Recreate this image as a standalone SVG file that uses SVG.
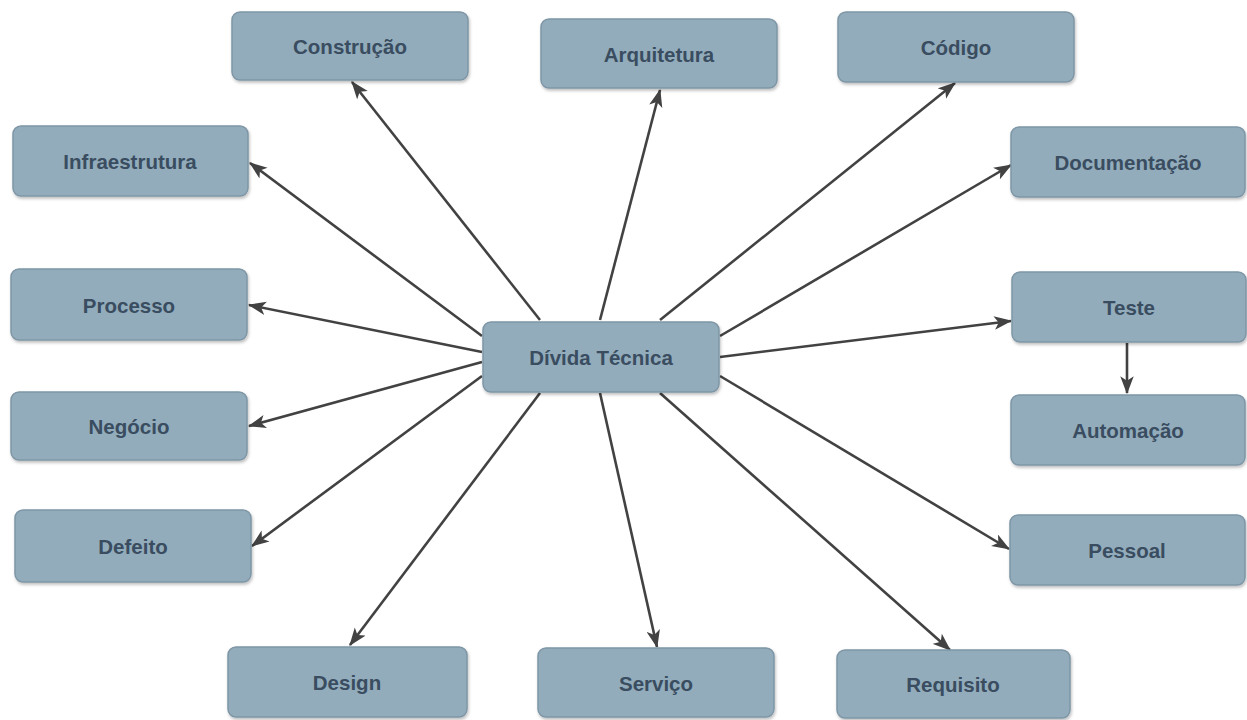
<svg xmlns="http://www.w3.org/2000/svg" width="1247" height="720" viewBox="0 0 1247 720">
  <style>
    .box { fill: #92acbc; stroke: #7e96a5; stroke-width: 1.5; filter: url(#shadow); }
    .lbl { font-family: "Liberation Sans", Arial, sans-serif; font-weight: bold; font-size: 20.5px; fill: #3a4d60; text-anchor: middle; dominant-baseline: central; }
    .edge { stroke: #424242; stroke-width: 2.6; fill: none; marker-end: url(#arrow); }
  </style>
  <defs>
    <!-- notched arrowhead shared by every connector -->
    <marker id="arrow" viewBox="0 0 16 12" refX="15" refY="6" markerWidth="18" markerHeight="14" markerUnits="userSpaceOnUse" orient="auto">
      <path d="M0,0 L16,6 L0,12 L4,6 z" fill="#424242"/>
    </marker>
    <filter id="shadow" x="-5%" y="-10%" width="112%" height="130%">
      <feDropShadow dx="1" dy="2" stdDeviation="1.5" flood-color="#000" flood-opacity="0.25"/>
    </filter>
  </defs>
  <rect width="1247" height="720" fill="#ffffff"/>

  <g id="connectors">
    <line class="edge" x1="540" y1="320" x2="352" y2="82"/>
    <line class="edge" x1="600" y1="320" x2="660" y2="90"/>
    <line class="edge" x1="660" y1="320" x2="955" y2="83"/>
    <line class="edge" x1="482" y1="336" x2="250" y2="163"/>
    <line class="edge" x1="720" y1="336" x2="1011" y2="165"/>
    <line class="edge" x1="482" y1="352" x2="249" y2="305"/>
    <line class="edge" x1="720" y1="357" x2="1011" y2="321"/>
    <line class="edge" x1="482" y1="362" x2="249" y2="426"/>
    <line class="edge" x1="482" y1="376" x2="252" y2="546"/>
    <line class="edge" x1="720" y1="376" x2="1009" y2="549"/>
    <line class="edge" x1="540" y1="393" x2="350" y2="645"/>
    <line class="edge" x1="600" y1="393" x2="657" y2="647"/>
    <line class="edge" x1="660" y1="393" x2="950" y2="650"/>
    <line class="edge" x1="1127" y1="343" x2="1127" y2="393"/>
  </g>

  <g id="n-divida"><rect class="box" x="483" y="322" width="236" height="70" rx="8"/><text class="lbl" x="601" y="357">Dívida Técnica</text></g>
  <g id="n-construcao"><rect class="box" x="232" y="12" width="236" height="68" rx="8"/><text class="lbl" x="350" y="46">Construção</text></g>
  <g id="n-arquitetura"><rect class="box" x="541" y="19" width="236" height="69" rx="8"/><text class="lbl" x="659" y="54">Arquitetura</text></g>
  <g id="n-codigo"><rect class="box" x="838" y="12" width="236" height="70" rx="8"/><text class="lbl" x="956" y="47">Código</text></g>
  <g id="n-infraestrutura"><rect class="box" x="13" y="126" width="235" height="70" rx="8"/><text class="lbl" x="130" y="161">Infraestrutura</text></g>
  <g id="n-documentacao"><rect class="box" x="1011" y="127" width="234" height="70" rx="8"/><text class="lbl" x="1128" y="162">Documentação</text></g>
  <g id="n-processo"><rect class="box" x="11" y="269" width="236" height="71" rx="8"/><text class="lbl" x="129" y="305">Processo</text></g>
  <g id="n-teste"><rect class="box" x="1012" y="272" width="234" height="70" rx="8"/><text class="lbl" x="1129" y="307">Teste</text></g>
  <g id="n-negocio"><rect class="box" x="11" y="392" width="236" height="68" rx="8"/><text class="lbl" x="129" y="426">Negócio</text></g>
  <g id="n-automacao"><rect class="box" x="1011" y="395" width="234" height="70" rx="8"/><text class="lbl" x="1128" y="430">Automação</text></g>
  <g id="n-defeito"><rect class="box" x="15" y="510" width="236" height="72" rx="8"/><text class="lbl" x="133" y="546">Defeito</text></g>
  <g id="n-pessoal"><rect class="box" x="1010" y="515" width="235" height="70" rx="8"/><text class="lbl" x="1127" y="550">Pessoal</text></g>
  <g id="n-design"><rect class="box" x="228" y="647" width="239" height="70" rx="8"/><text class="lbl" x="347" y="682">Design</text></g>
  <g id="n-servico"><rect class="box" x="538" y="648" width="236" height="69" rx="8"/><text class="lbl" x="656" y="683">Serviço</text></g>
  <g id="n-requisito"><rect class="box" x="837" y="650" width="233" height="68" rx="8"/><text class="lbl" x="953" y="684">Requisito</text></g>
</svg>
